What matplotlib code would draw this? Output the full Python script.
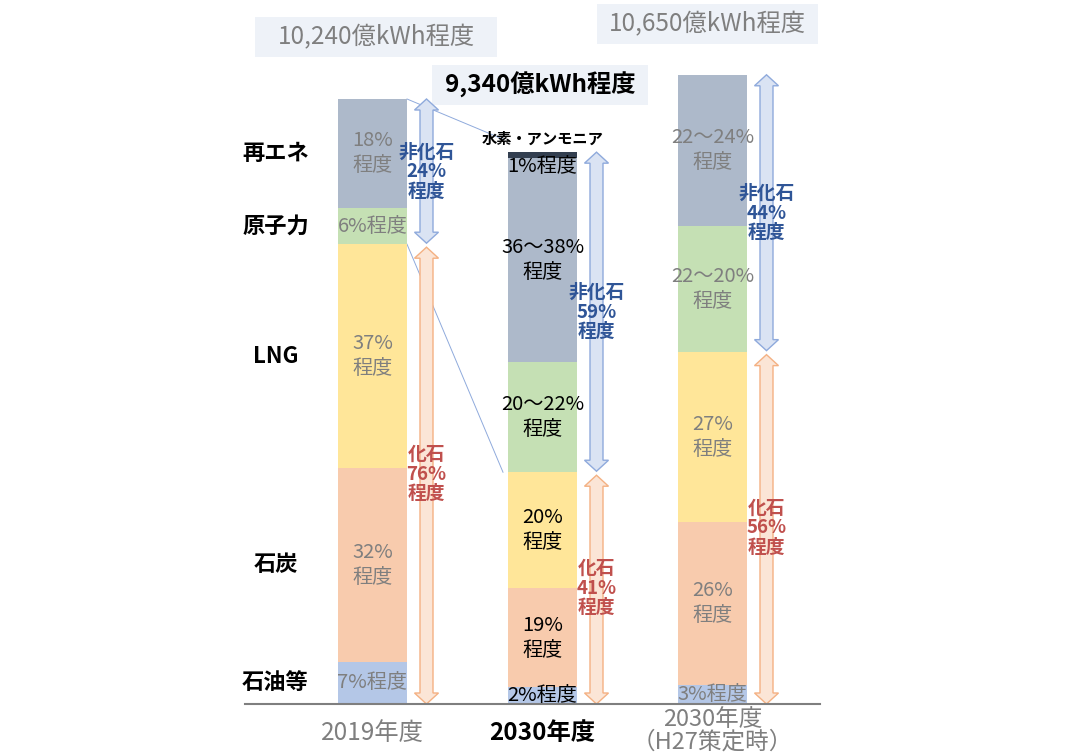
import numpy as np
import matplotlib.pyplot as plt
from matplotlib.patches import Polygon, Rectangle

plt.rcParams['font.family'] = ['Noto Sans CJK JP', 'DejaVu Sans']

# データ
years = ['2019年度', '2030年度', '2030年度\n（H27策定時）']
totals = [10240, 9340, 10650]          # 億kWh
total_labels = ['10,240億kWh程度', '9,340億kWh程度', '10,650億kWh程度']

sources = ['石油等', '石炭', 'LNG', '原子力', '再エネ', '水素・アンモニア']
oil = [7, 3, 3]
coal = [32, 18, 26]
lng = [37, 21, 27]
nuclear = [6, 20, 20]
renew = [18, 37, 24]
hydrogen = [0, 1, 0]

oil_lbl = ['7%程度', '2%程度', '3%程度']
coal_lbl = ['32%\n程度', '19%\n程度', '26%\n程度']
lng_lbl = ['37%\n程度', '20%\n程度', '27%\n程度']
nuclear_lbl = ['6%程度', '20～22%\n程度', '22～20%\n程度']
renew_lbl = ['18%\n程度', '36～38%\n程度', '22～24%\n程度']
hydrogen_lbl = ['', '1%程度', '']

fossil_pct = ['76%', '41%', '56%']
nonfossil_pct = ['24%', '59%', '44%']

colors = ['#B4C7E7', '#F8CBAD', '#FFE699', '#C5E0B4', '#ADB9CA', '#333F50']
text_colors = ['#7F7F7F', 'black', '#7F7F7F']

# 画面座標との対応
PX = 170.0                 # 1カテゴリ = 170px
K = 10240 / 605.0          # 1px = K 億kWh
fig = plt.figure(figsize=(10.78, 7.56), dpi=100)
ax = fig.add_axes([0, 0, 1, 1])
ax.set_xlim(-372.5 / PX, (1078 - 372.5) / PX)
ax.set_ylim(-52 * K, 704 * K)
ax.axis('off')

x = np.arange(len(years))
width = 69 / PX
shares = np.array([oil, coal, lng, nuclear, renew, hydrogen], dtype=float)
labels = [oil_lbl, coal_lbl, lng_lbl, nuclear_lbl, renew_lbl, hydrogen_lbl]
values = shares / 100.0 * np.array(totals)

# 積み上げ棒
bottom = np.zeros(len(years))
for i in range(len(sources)):
    ax.bar(x, values[i], width, bottom=bottom, color=colors[i], zorder=2)
    for j in range(len(years)):
        if labels[i][j] == '':
            continue
        yc = bottom[j] + values[i][j] / 2
        ax.text(x[j], yc, labels[i][j], ha='center', va='center',
                fontsize=14.5, color=text_colors[j], linespacing=1.25, zorder=4)
    bottom += values[i]

# 水素・アンモニア（1%程度は再エネ上端の内側に）
top_renew = values[:5].sum(axis=0)
ax.texts[-1].set_position((x[1], top_renew[1] - 9 * K))
ax.text(x[1], totals[1] + 5 * K, '水素・アンモニア', ha='center', va='bottom',
        fontsize=11, fontweight='bold', zorder=5)

# 左側の電源名
cum1 = np.cumsum(values[:, 0]) - values[:, 0] / 2
for i, name in enumerate(sources[:5]):
    ax.text(-97 / PX, cum1[i], name, ha='center', va='center',
            fontsize=16, fontweight='bold')


def double_arrow(xc, y0, y1, face, edge):
    sw, hw, hl = 6.5 / PX, 12 / PX, 11 * K
    pts = [(xc, y1), (xc + hw, y1 - hl), (xc + sw, y1 - hl), (xc + sw, y0 + hl),
           (xc + hw, y0 + hl), (xc, y0), (xc - hw, y0 + hl), (xc - sw, y0 + hl),
           (xc - sw, y1 - hl), (xc - hw, y1 - hl)]
    ax.add_patch(Polygon(pts, closed=True, fc=face, ec=edge, lw=1.0, zorder=2))


fossil = values[:3].sum(axis=0)
ax_off = 54 / PX
for j in range(len(years)):
    xa = x[j] + ax_off
    double_arrow(xa, fossil[j] + 1 * K, totals[j], '#DAE3F3', '#8FAADC')
    double_arrow(xa, 0, fossil[j] - 3 * K, '#FBE5D6', '#F4B183')
    ax.text(xa, (fossil[j] + totals[j]) / 2, '非化石\n' + nonfossil_pct[j] + '\n程度',
            ha='center', va='center', fontsize=13.5, fontweight='bold',
            color='#2F5597', linespacing=1.05, zorder=4)
    ax.text(xa, fossil[j] / 2, '化石\n' + fossil_pct[j] + '\n程度',
            ha='center', va='center', fontsize=13.5, fontweight='bold',
            color='#C0504D', linespacing=1.05, zorder=4)

# 2019 → 2030 の補助線
xr, xl = x[0] + width / 2, x[1] - 5 / PX - width / 2
ax.plot([xr, xl], [totals[0], totals[1] + 13 * K], color='#8FAADC', lw=0.7, zorder=1)
ax.plot([xr, xl], [fossil[0], fossil[1]], color='#8FAADC', lw=0.7, zorder=1)

# 総発電電力量
box_w = [242, 216, 221]
box_y = [37, 85, 24]
box_x = [376, 540, 707.5]
for j in range(len(years)):
    cx = (box_x[j] - 372.5) / PX
    cy = (704 - box_y[j]) * K
    ax.add_patch(Rectangle((cx - box_w[j] / 2 / PX, cy - 20 * K), box_w[j] / PX, 40 * K,
                           fc='#EEF2F8', ec='none', zorder=1))
    bold = j == 1
    ax.text(cx, cy, total_labels[j], ha='center', va='center', fontsize=17.5,
            fontweight='bold' if bold else 'normal',
            color='black' if bold else '#7F7F7F', zorder=3)

# 基準線と年度ラベル
ax.plot([-127.5 / PX, 447.5 / PX], [0, 0], color='#7F7F7F', lw=1.5, zorder=3)
year_y = [-29, -29, -27]
for j in range(len(years)):
    bold = j == 1
    ax.text(x[j], year_y[j] * K, years[j], ha='center', va='center',
            fontsize=17.5 if j < 2 else 17,
            fontweight='bold' if bold else 'normal',
            color='black' if bold else '#7F7F7F', linespacing=0.95)

fig.savefig('out.png', dpi=100)
